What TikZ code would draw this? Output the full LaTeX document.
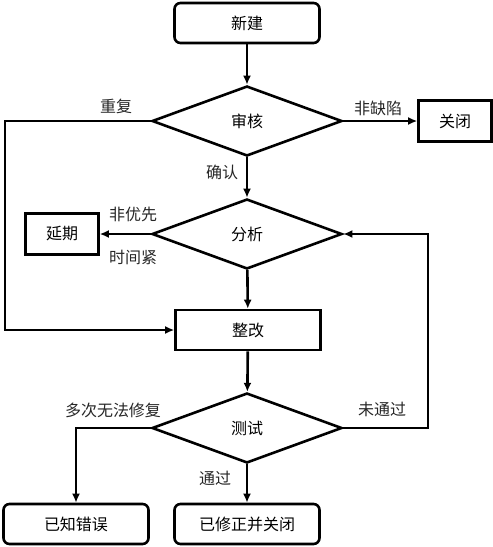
\documentclass[tikz,border=0pt]{standalone}
\usepackage{fontspec}
\newfontfamily\cjk{Noto Sans CJK SC}
\usetikzlibrary{shapes.geometric,arrows.meta,positioning}

\begin{document}
\begin{tikzpicture}[x=1pt, y=-1pt, line width=2.6pt,
    font=\cjk\fontsize{16}{19}\selectfont,
    term/.style = {draw, rounded corners=6pt, minimum width=145pt, minimum height=40pt},
    box/.style = {draw, minimum width=145pt, minimum height=40pt},
    small/.style = {draw, minimum width=73pt, minimum height=41pt},
    check/.style = {draw, diamond, minimum width=190pt, minimum height=70pt, inner sep=0pt},
    arr/.style = {-{Latex[length=9pt,width=8pt]}},
    lab/.style = {font=\cjk\fontsize{16}{19}\selectfont, text=black!85}]
    \useasboundingbox (0,0) rectangle (493,547);
    \node[term] (new) at (247,23) {新建};
    \node[check] (audit) at (247,121) {审核};
    \node[small] (close) at (455,121) {关闭};
    \node[check] (ana) at (247,234) {分析};
    \node[small] (delay) at (62,234) {延期};
    \node[box] (fix) at (248,330) {整改};
    \node[check] (test) at (247,428) {测试};
    \node[term] (known) at (76,524) {已知错误};
    \node[term] (done) at (247,524) {已修正并关闭};
    % labels
    \node[lab] (lrep) at (116,106) {重复};
    \node[lab] (lnot) at (378,108) {非缺陷};
    \node[lab] (lok) at (222,172) {确认};
    \node[lab] (lprio) at (133,214) {非优先};
    \node[lab] (ltime) at (133,257) {时间紧};
    \node[lab] (lfail) at (382,409) {未通过};
    \node[lab] (lmany) at (113,410) {多次无法修复};
    \node[lab] (lpass) at (215,478) {通过};
    \coordinate (rl) at (5,121);
    \coordinate (rr) at (428,428);
    % connectors
    \draw[arr] (new) -- (audit);
    \draw[arr] (audit) -- (close);
    \draw[arr] (audit) -- (ana);
    \draw[arr] (ana) -- (delay);
    \draw[arr] (ana) -- (fix);
    \draw[arr] (fix) -- (test);
    \draw[arr] (test) -- (done);
    \draw[arr] (audit.west) -- (rl) |- (fix.west);
    \draw[arr] (test.east) -- (rr) |- (ana.east);
    \draw[arr] (test.west) -| (known.north);
\end{tikzpicture}
\end{document}
